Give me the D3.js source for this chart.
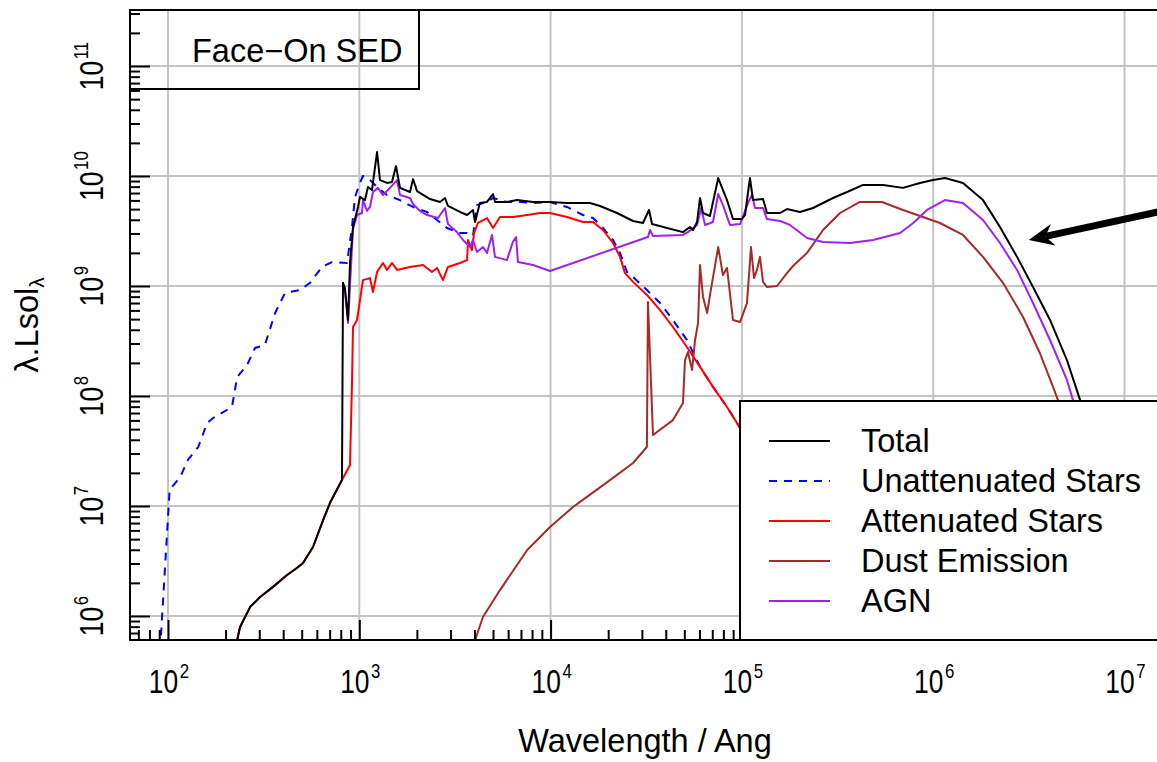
<!DOCTYPE html>
<meta charset="utf-8">
<style>
html, body { margin: 0; padding: 0; background: #fff; }
svg text { font-family: "Liberation Sans", Arial, Helvetica, sans-serif; fill: #000; }
</style>
<body>
<script src="https://d3js.org/d3.v7.min.js"></script>
<script>

var width = 1157,
    height = 762;

// decades on the axes
var xTicks = [1e2, 1e3, 1e4, 1e5, 1e6, 1e7];
var xExp = ["2", "3", "4", "5", "6", "7"];
var yTicks = [1e6, 1e7, 1e8, 1e9, 1e10, 1e11];
var yExp = ["6", "7", "8", "9", "10", "11"];

var legendNames = ["Total", "Unattenuated Stars", "Attenuated Stars", "Dust Emission", "AGN"];

// [wavelength (Ang), lambda.L (Lsol)]
var unattenuated = [
  [89, 2.6e5], [102, 1.40e7], [116, 1.84e7], [127, 2.62e7], [144, 3.44e7], [160, 5.68e7],
  [172, 6.31e7], [216, 7.95e7], [230, 1.49e8], [259, 1.91e8], [285, 2.73e8], [321, 2.91e8],
  [363, 5.68e8], [409, 8.65e8], [490, 9.18e8], [553, 1.07e9], [638, 1.49e9], [720, 1.65e9],
  [863, 1.62e9], [916, 3.44e9], [950, 6.45e9], [1008, 8.65e9], [1045, 1.0e10], [1110, 9.59e9],
  [1252, 7.8e9], [1396, 6.71e9], [1632, 6.04e9], [1909, 5.23e9], [2259, 4.71e9], [2548, 3.98e9],
  [2874, 3.37e9], [3360, 3.03e9], [3660, 3.03e9], [3930, 2.85e9], [4120, 5.44e9], [4650, 5.81e9],
  [5000, 6.31e9], [5910, 5.81e9], [6920, 5.81e9], [8100, 5.68e9], [9930, 5.81e9], [12180, 5.23e9],
  [14770, 4.42e9], [16660, 4.15e9], [18780, 3.37e9], [21200, 2.62e9], [23060, 2.0e9], [25080, 1.34e9],
  [26980, 1.21e9], [31870, 9.18e8], [37360, 7.0e8], [43600, 4.91e8], [51600, 3.23e8], [60400, 1.84e8],
  [70600, 1.21e8], [83600, 7.95e7], [97800, 5.12e7], [201200, 7.9e6], [671000, 3.2e5]
];

var attenuated = [
  [224, 4.9e5], [238, 7.94e5], [269, 1.21e6], [303, 1.49e6], [354, 1.84e6], [419, 2.36e6],
  [472, 2.73e6], [508, 3.03e6], [573, 4.24e6], [638, 7.0e6], [703, 1.07e7], [812, 1.72e7],
  [894, 2.36e7], [916, 1.31e8], [927, 4.24e8], [973, 4.91e8], [1045, 1.13e9], [1137, 1.18e9],
  [1179, 8.82e8], [1238, 1.34e9], [1330, 1.62e9], [1396, 1.40e9], [1482, 1.62e9], [1575, 1.40e9],
  [1841, 1.49e9], [2153, 1.55e9], [2398, 1.34e9], [2548, 1.46e9], [2738, 1.13e9], [2907, 1.49e9],
  [3360, 1.62e9], [3660, 1.72e9], [3700, 2.62e9], [3880, 2.12e9], [3980, 3.03e9], [4170, 3.74e9],
  [4650, 4.15e9], [5000, 3.37e9], [5440, 4.24e9], [6350, 4.24e9], [7550, 4.42e9], [8820, 4.61e9],
  [9930, 4.61e9], [12180, 4.24e9], [14770, 3.82e9], [16660, 3.82e9], [18780, 3.23e9], [21200, 2.46e9],
  [23060, 1.84e9], [24480, 1.31e9], [26980, 1.09e9], [31870, 8.3e8], [37360, 6.04e8], [43600, 4.24e8],
  [51600, 2.79e8], [60400, 1.84e8], [70600, 1.21e8], [83600, 7.95e7], [97800, 5.12e7], [201200, 7.9e6],
  [671000, 3.2e5]
];

var dust = [
  [3790, 3.98e5], [4030, 6.05e5], [4430, 9.79e5], [5440, 1.72e6], [7550, 3.98e6], [9930, 6.45e6],
  [13100, 9.79e6], [15490, 1.21e7], [21200, 1.80e7], [26980, 2.46e7], [31870, 3.44e7], [32280, 7.15e8],
  [34300, 4.42e7], [43600, 6.04e7], [49200, 8.65e7], [50400, 2.12e8], [52200, 2.51e8], [54900, 1.72e8],
  [56900, 3.23e8], [59000, 4.61e8], [60400, 1.55e9], [62600, 7.95e8], [65800, 5.68e8], [68100, 8.3e8],
  [75200, 2.26e9], [79600, 1.26e9], [83600, 1.46e9], [89800, 4.91e8], [97800, 4.71e8], [106300, 7.0e8],
  [111600, 2.26e9], [115700, 1.18e9], [119900, 1.40e9], [124300, 1.84e9], [128900, 1.09e9], [135300, 9.79e8],
  [152600, 1.0e9], [172100, 1.31e9], [185000, 1.52e9], [219000, 2.0e9], [265500, 3.23e9], [326000, 4.61e9],
  [414000, 5.81e9], [540000, 5.81e9], [695000, 4.91e9], [1085000, 3.74e9], [1431000, 2.91e9], [1821000, 1.84e9],
  [2316000, 1.07e9], [2948000, 5.23e8], [3610000, 2.46e8], [4230000, 1.21e8], [4490000, 9.18e7],
  [7450000, 7.46e6], [12050000, 6.05e5]
];

var agn = [
  [841, 9.18e8], [873, 4.61e8], [927, 3.30e9], [973, 4.42e9], [1033, 4.61e9], [1045, 6.04e9],
  [1097, 4.81e9], [1137, 5.23e9], [1179, 7.15e9], [1252, 7.8e9], [1330, 6.71e9], [1447, 7.8e9],
  [1575, 9.18e9], [1632, 6.71e9], [1841, 6.31e9], [1909, 5.56e9], [2077, 4.81e9], [2259, 4.42e9],
  [2578, 4.15e9], [2806, 5.12e9], [2907, 3.66e9], [3240, 3.09e9], [3485, 2.62e9], [3790, 2.26e9],
  [3930, 2.62e9], [4120, 2.04e9], [4430, 2.26e9], [4650, 2.0e9], [4940, 2.91e9], [5120, 1.84e9],
  [5910, 1.72e9], [6350, 2.51e9], [6600, 2.79e9], [6750, 1.65e9], [8100, 1.55e9], [9930, 1.37e9],
  [32280, 2.79e9], [33100, 3.23e9], [34300, 2.85e9], [49200, 2.91e9], [52200, 3.09e9], [58300, 3.59e9],
  [61200, 5.12e9], [64200, 3.59e9], [70600, 3.82e9], [75200, 6.85e9], [79600, 5.44e9], [86600, 3.59e9],
  [97800, 3.66e9], [107600, 5.68e9], [112900, 6.71e9], [117100, 5.12e9], [128900, 5.12e9], [135300, 4.06e9],
  [158200, 3.90e9], [178400, 3.59e9], [219000, 2.73e9], [265500, 2.51e9], [368000, 2.46e9], [485000, 2.62e9],
  [671000, 3.03e9], [786000, 3.74e9], [928000, 4.91e9], [1153000, 6.04e9], [1431000, 5.68e9], [1821000, 3.98e9],
  [2234000, 2.46e9], [2743000, 1.40e9], [3325000, 7.0e8], [4080000, 3.23e8], [5000000, 1.40e8],
  [5380000, 9.18e7], [8400000, 7.46e6], [12050000, 6.05e5]
];

var total = [
  [224, 4.9e5], [238, 7.94e5], [269, 1.21e6], [303, 1.49e6], [354, 1.84e6], [419, 2.36e6],
  [472, 2.73e6], [508, 3.03e6], [573, 4.24e6], [638, 7.0e6], [703, 1.07e7], [812, 1.72e7],
  [822, 1.07e9], [841, 9.59e8], [873, 4.91e8], [894, 1.62e9], [927, 3.44e9], [985, 5.23e9],
  [1008, 6.45e9], [1071, 6.04e9], [1110, 7.95e9], [1165, 7.45e9], [1238, 1.65e10], [1283, 9.18e9],
  [1396, 8.65e9], [1482, 8.82e9], [1556, 1.23e10], [1632, 7.8e9], [1841, 7.15e9], [1909, 9.37e9],
  [2003, 7.3e9], [2344, 6.17e9], [2641, 5.81e9], [2806, 6.31e9], [2907, 5.34e9], [3360, 4.71e9],
  [3660, 4.42e9], [3930, 4.91e9], [4030, 3.82e9], [4270, 5.68e9], [4650, 5.81e9], [5000, 6.85e9],
  [5120, 5.81e9], [5910, 5.81e9], [6680, 6.04e9], [8100, 5.81e9], [9930, 5.81e9], [12180, 5.68e9],
  [16060, 5.68e9], [18120, 5.34e9], [22230, 4.61e9], [26980, 3.90e9], [30400, 3.74e9], [32700, 4.91e9],
  [33900, 3.66e9], [40600, 3.37e9], [49200, 3.09e9], [53500, 3.44e9], [55500, 3.23e9], [58300, 3.82e9],
  [60400, 6.31e9], [62600, 4.61e9], [68100, 4.33e9], [75200, 9.59e9], [78800, 7.8e9], [83600, 6.04e9],
  [89800, 4.06e9], [100000, 4.06e9], [103800, 4.42e9], [110200, 9.59e9], [114300, 6.04e9], [128900, 6.17e9],
  [135300, 4.61e9], [158200, 4.61e9], [172100, 5.01e9], [201200, 4.71e9], [235400, 5.12e9], [299400, 6.31e9],
  [354500, 7.15e9], [430000, 8.3e9], [547000, 8.3e9], [695000, 7.8e9], [853000, 8.65e9], [998000, 9.18e9],
  [1153000, 9.59e9], [1431000, 8.65e9], [1821000, 6.04e9], [2234000, 3.44e9], [2743000, 1.84e9],
  [3325000, 9.79e8], [4080000, 4.91e8], [5000000, 2.12e8], [5860000, 9.18e7], [9470000, 6.05e6],
  [13590000, 6.05e5]
];

// arrow annotation, tail and tip in data units
var arrowTail = [1.75e7, 5.0e9];
var arrowTip = [3.16e6, 2.62e9];

var plotLeft = 130, plotTop = 10, plotRight = 1160, plotBottom = 640;

var x = d3.scaleLog().domain([63.3, 1.533e7]).range([plotLeft, plotRight]);
var y = d3.scaleLog().domain([6.05e5, 3.23e11]).range([plotBottom, plotTop]);

var svg = d3.select("body").append("svg")
    .attr("width", width)
    .attr("height", height)
    .style("display", "block");

svg.append("defs").append("clipPath").attr("id", "plotclip")
  .append("rect")
    .attr("x", plotLeft).attr("y", plotTop)
    .attr("width", plotRight - plotLeft).attr("height", plotBottom - plotTop);

// minor tick positions 2..9 per decade
function minors(scale) {
  var dom = scale.domain(), out = [];
  for (var e = -1; e < 13; e++) {
    for (var m = 2; m < 10; m++) {
      var v = m * Math.pow(10, e);
      if (v >= dom[0] && v <= dom[1]) out.push(v);
    }
  }
  return out;
}

// grid
var grid = svg.append("g").attr("class", "grid");
grid.selectAll("line.gx").data(xTicks).enter().append("line")
    .attr("x1", d => x(d)).attr("x2", d => x(d))
    .attr("y1", plotTop).attr("y2", plotBottom);
grid.selectAll("line.gy").data(yTicks).enter().append("line")
    .attr("x1", plotLeft).attr("x2", plotRight)
    .attr("y1", d => y(d)).attr("y2", d => y(d));
grid.selectAll("line").attr("stroke", "#c4c4c4").attr("stroke-width", 2);

// curves
var line = d3.line().x(d => x(d[0])).y(d => y(d[1]));
var curves = svg.append("g").attr("clip-path", "url(#plotclip)").attr("fill", "none")
    .attr("stroke-linejoin", "round");

var series = [
  {data: unattenuated, colour: "#0000ff", dash: "8,7"},
  {data: attenuated, colour: "#ff0000", dash: null},
  {data: dust, colour: "#a52a2a", dash: null},
  {data: agn, colour: "#a020f0", dash: null},
  {data: total, colour: "#000000", dash: null}
];
series.forEach(function(s) {
  curves.append("path")
      .datum(s.data)
      .attr("stroke", s.colour)
      .attr("stroke-width", 2)
      .attr("stroke-dasharray", s.dash)
      .attr("d", line);
});

// ticks (drawn inside the plot)
function tickGroup(axis, tr) {
  var g = svg.append("g").attr("transform", tr).call(axis);
  g.select(".domain").remove();
  g.selectAll("line").attr("stroke", "#000").attr("stroke-width", 2);
  return g;
}
tickGroup(d3.axisRight(y).tickValues(yTicks).tickSize(20).tickFormat(""), "translate(" + plotLeft + ",0)");
tickGroup(d3.axisRight(y).tickValues(minors(y)).tickSize(10).tickFormat(""), "translate(" + plotLeft + ",0)");
tickGroup(d3.axisTop(x).tickValues(xTicks.filter(d => x(d) < plotRight)).tickSize(20).tickFormat(""), "translate(0," + plotBottom + ")");
tickGroup(d3.axisTop(x).tickValues(minors(x)).tickSize(10).tickFormat(""), "translate(0," + plotBottom + ")");

// frame
svg.append("path")
    .attr("d", "M" + plotRight + "," + plotTop + "H" + plotLeft + "V" + plotBottom + "H" + plotRight)
    .attr("fill", "none").attr("stroke", "#000").attr("stroke-width", 2);

// tick labels
xTicks.forEach(function(t, i) {
  var g = svg.append("g").attr("transform", "translate(" + (x(t) + 1) + ",693) scale(0.8,1)");
  var tx = g.append("text").attr("text-anchor", "middle").style("font-size", "33px");
  tx.append("tspan").text("10");
  tx.append("tspan").attr("dy", -15).attr("dx", 2).style("font-size", "21px").text(xExp[i]);
});
yTicks.forEach(function(t, i) {
  var g = svg.append("g").attr("transform", "translate(103," + y(t) + ") rotate(-90) scale(0.8,1)");
  var tx = g.append("text").attr("text-anchor", "middle").style("font-size", "33px");
  tx.append("tspan").text("10");
  tx.append("tspan").attr("dy", -15).attr("dx", 2).style("font-size", "21px").text(yExp[i]);
});

// axis titles
svg.append("text")
    .attr("x", (plotLeft + plotRight) / 2).attr("y", 752)
    .attr("text-anchor", "middle").style("font-size", "32.5px")
    .text("Wavelength / Ang");

var yt = svg.append("text")
    .attr("transform", "translate(38," + ((plotTop + plotBottom) / 2) + ") rotate(-90)")
    .attr("text-anchor", "middle").style("font-size", "32.5px");
yt.append("tspan").text("\u03bb.Lsol");
yt.append("tspan").attr("dy", 6).style("font-size", "21px").text("\u03bb");

// title box
svg.append("rect")
    .attr("x", plotLeft).attr("y", plotTop).attr("width", 289).attr("height", 79)
    .attr("fill", "none").attr("stroke", "#000").attr("stroke-width", 2);
svg.append("text")
    .attr("x", 192).attr("y", 62).style("font-size", "32.5px")
    .text("Face\u2212On SED");

// legend
var legend = svg.append("g");
legend.append("rect")
    .attr("x", 740).attr("y", 401).attr("width", 500).attr("height", plotBottom - 401)
    .attr("fill", "#fff").attr("stroke", "#000").attr("stroke-width", 2);
var legendColours = ["#000000", "#0000ff", "#ff0000", "#a52a2a", "#a020f0"];
legendNames.forEach(function(name, i) {
  var base = 452 + i * 40;
  legend.append("line")
      .attr("x1", 769).attr("x2", 830)
      .attr("y1", base - 11).attr("y2", base - 11)
      .attr("stroke", legendColours[i]).attr("stroke-width", 2)
      .attr("stroke-dasharray", i === 1 ? "8,7" : null);
  legend.append("text")
      .attr("x", 861).attr("y", base).style("font-size", "32.5px")
      .text(name);
});

// arrow
var tx0 = x(arrowTail[0]), ty0 = y(arrowTail[1]);
var tx1 = x(arrowTip[0]), ty1 = y(arrowTip[1]);
var dx = tx0 - tx1, dy = ty0 - ty1, len = Math.sqrt(dx * dx + dy * dy);
var ux = dx / len, uy = dy / len, px = -uy, py = ux;
var headLen = 25, headHalf = 11, notch = 17;
svg.append("line")
    .attr("x1", tx0).attr("y1", ty0)
    .attr("x2", tx1 + ux * notch).attr("y2", ty1 + uy * notch)
    .attr("stroke", "#000").attr("stroke-width", 7);
svg.append("path")
    .attr("d", "M" + tx1 + "," + ty1 +
      "L" + (tx1 + ux * headLen + px * headHalf) + "," + (ty1 + uy * headLen + py * headHalf) +
      "L" + (tx1 + ux * notch) + "," + (ty1 + uy * notch) +
      "L" + (tx1 + ux * headLen - px * headHalf) + "," + (ty1 + uy * headLen - py * headHalf) + "Z")
    .attr("fill", "#000");

</script>
</body>
